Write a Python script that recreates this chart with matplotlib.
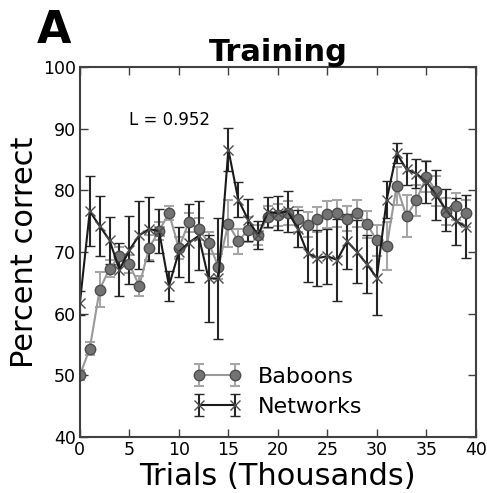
import matplotlib
matplotlib.use('Agg')
import matplotlib.pyplot as plt
import numpy as np

trials = list(range(40))

baboons = [50.0, 54.3, 63.9, 67.3, 69.3, 68.0, 64.5, 70.7, 73.4, 76.3,
           70.6, 74.8, 73.7, 71.5, 67.6, 74.6, 71.7, 73.6, 72.7, 75.7,
           76.0, 76.3, 75.3, 74.4, 75.3, 76.1, 76.3, 75.4, 76.3, 74.5,
           71.9, 70.9, 80.7, 75.8, 78.4, 82.2, 79.9, 76.5, 77.4, 76.3]
baboons_err = [0.8, 1.1, 2.9, 1.4, 1.5, 1.5, 1.6, 2.0, 1.5, 1.2,
               1.8, 1.5, 1.8, 1.8, 2.0, 3.8, 2.0, 2.0, 1.6, 1.8,
               1.8, 2.0, 2.0, 2.0, 2.0, 2.2, 2.2, 2.0, 2.2, 2.2,
               2.5, 3.9, 3.1, 3.4, 2.5, 2.5, 2.5, 2.2, 2.2, 2.2]

networks = [61.7, 76.6, 74.2, 71.9, 67.1, 70.3, 72.7, 73.7, 73.4, 64.5,
            70.0, 71.5, 72.6, 65.7, 65.7, 86.6, 78.5, 75.2, 72.7, 76.5,
            76.3, 76.6, 73.8, 69.8, 69.0, 69.3, 68.7, 71.7, 70.0, 68.0,
            65.8, 78.5, 86.0, 83.4, 82.7, 81.4, 79.2, 76.8, 75.0, 74.1]
networks_err = [2.0, 5.7, 4.8, 3.8, 4.3, 5.5, 5.5, 5.2, 3.6, 2.4,
                4.0, 6.3, 5.6, 7.0, 9.8, 3.5, 2.8, 3.4, 2.3, 2.4,
                2.8, 3.3, 3.0, 4.6, 4.5, 4.5, 6.7, 4.5, 5.1, 4.7,
                6.1, 3.0, 1.6, 2.6, 2.4, 3.4, 4.1, 3.4, 3.8, 5.1]

fig = plt.figure(figsize=(4.87, 4.93), dpi=100)
ax = fig.add_axes([0.164, 0.114, 0.813, 0.75])

ax.errorbar(trials, baboons, yerr=baboons_err, color='0.6', lw=1.5,
            marker='o', markersize=7.5, markerfacecolor='0.45',
            markeredgecolor='0.3', ecolor='0.65', elinewidth=1.5,
            capsize=3.5, capthick=1.5, label='Baboons')
ax.errorbar(trials, networks, yerr=networks_err, color='0.1', lw=1.5,
            marker='x', markersize=6.5, markeredgewidth=1.0,
            markeredgecolor='0.3', ecolor='0.15', elinewidth=1.5,
            capsize=3.5, capthick=1.5, label='Networks')

ax.set_xlim(0, 40)
ax.set_ylim(40, 100)
ax.set_xticks(range(0, 41, 5))
ax.set_yticks(range(40, 101, 10))
ax.tick_params(direction='in', top=True, right=True, length=6,
               width=1, labelsize=12.5, color='0.25', pad=3)
for s in ax.spines.values():
    s.set_linewidth(1.5)
    s.set_color('0.25')

ax.set_xlabel('Trials (Thousands)', fontsize=22, labelpad=2.5)
ax.set_ylabel('Percent correct', fontsize=22, labelpad=3)
ax.set_title('Training', fontsize=22, fontweight='bold', pad=4)
ax.text(5, 91.4, 'L = 0.952', fontsize=12, va='center')
fig.text(0.075, 0.913, 'A', fontsize=32, fontweight='bold')

ax.legend(loc='lower center', bbox_to_anchor=(0.5, 0.0), frameon=False,
          numpoints=2, fontsize=16, handlelength=2.2, labelspacing=0.45,
          handletextpad=0.75)

fig.savefig('out.png', dpi=100)
